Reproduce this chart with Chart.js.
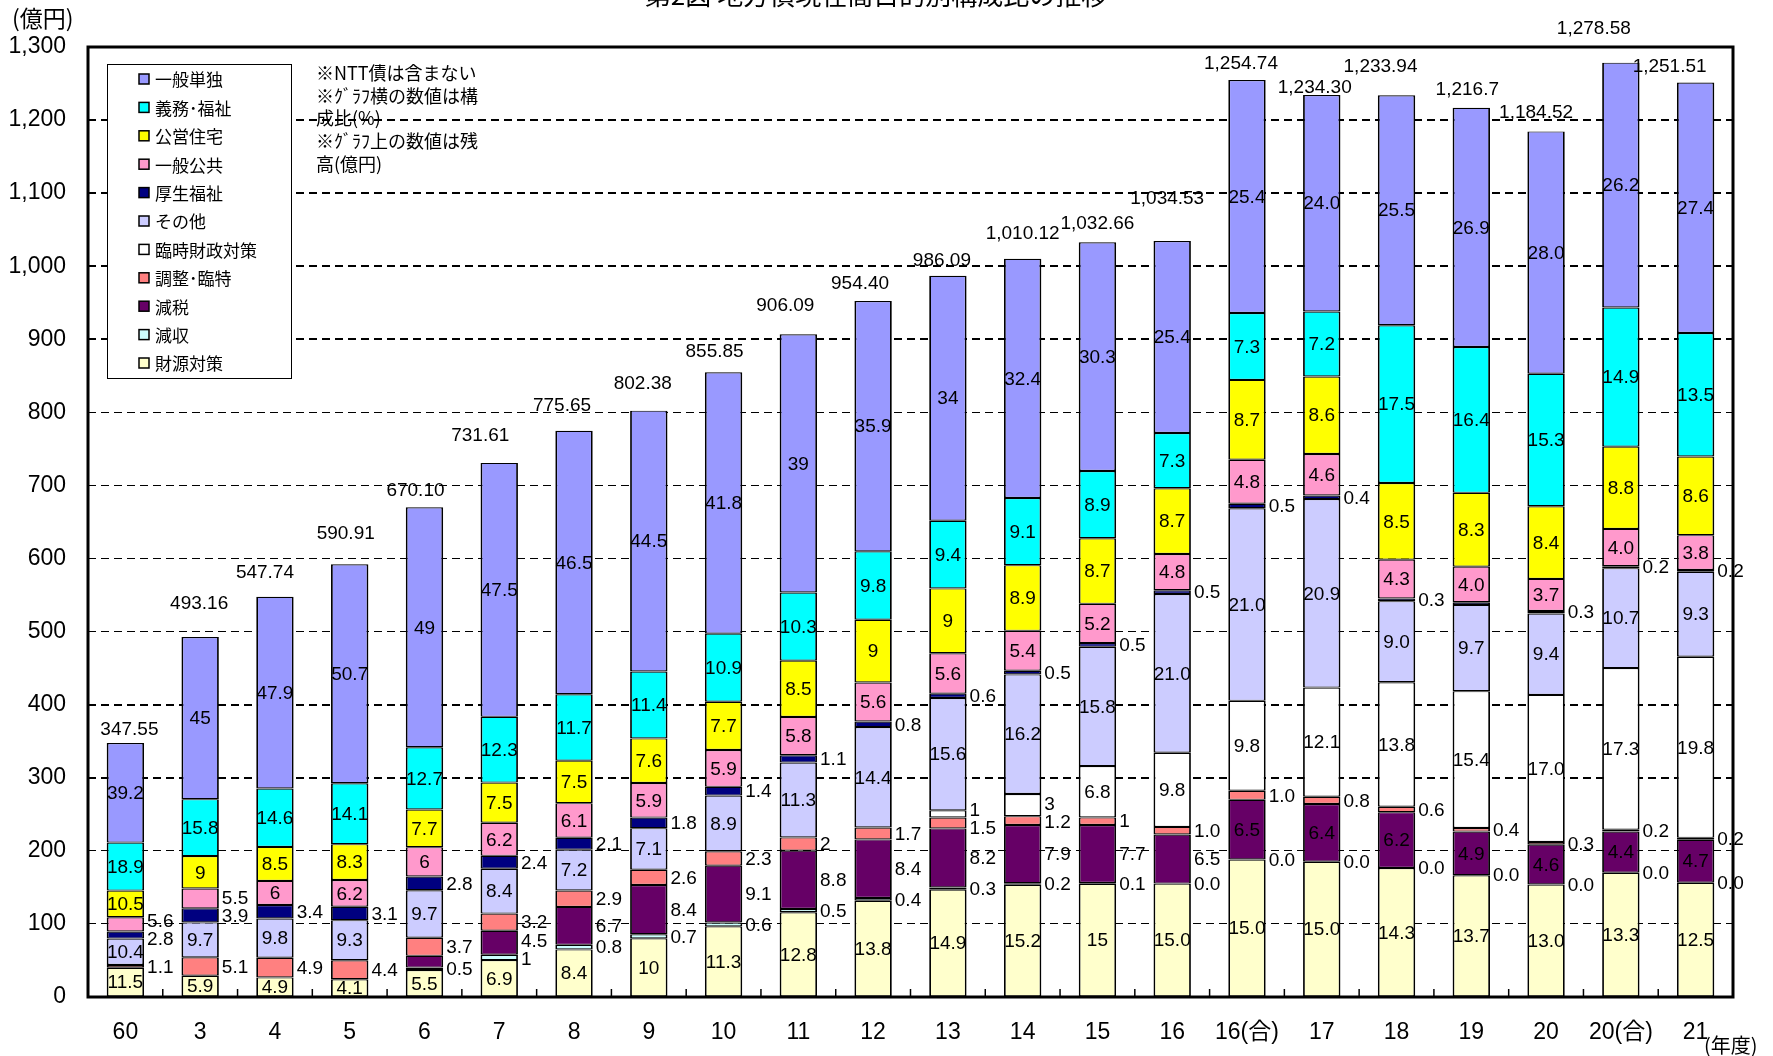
<!DOCTYPE html>
<html lang="ja">
<head>
<meta charset="utf-8">
<script src="https://cdn.jsdelivr.net/npm/chart.js@4.4.1/dist/chart.umd.min.js"></script>
<style>
html,body{margin:0;padding:0;background:#fff;}
canvas{display:block;}
</style>
</head>
<body>
<canvas id="c" width="1773" height="1056" style="width:1773px;height:1056px"></canvas>
<script>
// ---------- DATA ----------
const categories = ['60','3','4','5','6','7','8','9','10','11','12','13','14','15','16','16(合)','17','18','19','20','20(合)','21'];
const totals = [347.55, 493.16, 547.74, 590.91, 670.10, 731.61, 775.65, 802.38, 855.85, 906.09, 954.40, 986.09, 1010.12, 1032.66, 1034.53, 1254.74, 1234.30, 1233.94, 1216.7, 1184.52, 1278.58, 1251.51];
const totalLabels = ['347.55','493.16','547.74','590.91','670.10','731.61','775.65','802.38','855.85','906.09','954.40','986.09','1,010.12','1,032.66','1,034.53','1,254.74','1,234.30','1,233.94','1,216.7','1,184.52','1,278.58','1,251.51'];

// composition ratios (%) per purpose, bottom of stack first
const zaigen   = [11.5, 5.9, 4.9, 4.1, 5.5, 6.9, 8.4, 10, 11.3, 12.8, 13.8, 14.9, 15.2, 15, 15.0, 15.0, 15.0, 14.3, 13.7, 13.0, 13.3, 12.5]; // 財源対策
const genshu   = [null, null, null, null, 0.5, 1, 0.8, 0.7, 0.6, 0.5, 0.4, 0.3, 0.2, 0.1, 0.0, 0.0, 0.0, 0.0, 0.0, 0.0, 0.0, 0.0]; // 減収
const genzei   = [null, null, null, null, 2.4, 4.5, 6.7, 8.4, 9.1, 8.8, 8.4, 8.2, 7.9, 7.7, 6.5, 6.5, 6.4, 6.2, 4.9, 4.6, 4.4, 4.7]; // 減税
const chosei   = [1.1, 5.1, 4.9, 4.4, 3.7, 3.2, 2.9, 2.6, 2.3, 2, 1.7, 1.5, 1.2, 1, 1.0, 1.0, 0.8, 0.6, 0.4, 0.3, 0.2, 0.2]; // 調整・臨特
const rinji    = [null, null, null, null, null, null, null, null, null, null, null, 1, 3, 6.8, 9.8, 9.8, 12.1, 13.8, 15.4, 17.0, 17.3, 19.8]; // 臨時財政対策
const sonota   = [10.4, 9.7, 9.8, 9.3, 9.7, 8.4, 7.2, 7.1, 8.9, 11.3, 14.4, 15.6, 16.2, 15.8, 21.0, 21.0, 20.9, 9.0, 9.7, 9.4, 10.7, 9.3]; // その他
const kosei    = [2.8, 3.9, 3.4, 3.1, 2.8, 2.4, 2.1, 1.8, 1.4, 1.1, 0.8, 0.6, 0.5, 0.5, 0.5, 0.5, 0.4, 0.3, 0.3, 0.3, 0.2, 0.2]; // 厚生福祉
const kokyo    = [5.6, 5.5, 6, 6.2, 6, 6.2, 6.1, 5.9, 5.9, 5.8, 5.6, 5.6, 5.4, 5.2, 4.8, 4.8, 4.6, 4.3, 4.0, 3.7, 4.0, 3.8]; // 一般公共
const koei     = [10.5, 9, 8.5, 8.3, 7.7, 7.5, 7.5, 7.6, 7.7, 8.5, 9, 9, 8.9, 8.7, 8.7, 8.7, 8.6, 8.5, 8.3, 8.4, 8.8, 8.6]; // 公営住宅
const gimu     = [18.9, 15.8, 14.6, 14.1, 12.7, 12.3, 11.7, 11.4, 10.9, 10.3, 9.8, 9.4, 9.1, 8.9, 7.3, 7.3, 7.2, 17.5, 16.4, 15.3, 14.9, 13.5]; // 義務・福祉
const tandoku  = [39.2, 45, 47.9, 50.7, 49, 47.5, 46.5, 44.5, 41.8, 39, 35.9, 34, 32.4, 30.3, 25.4, 25.4, 24.0, 25.5, 26.9, 28.0, 26.2, 27.4]; // 一般単独

const yTicks = [0,100,200,300,400,500,600,700,800,900,1000,1100,1200,1300];
const noteLines = ['※NTT債は含まない','※ｸﾞﾗﾌ横の数値は構','成比(%)','※ｸﾞﾗﾌ上の数値は残','高(億円)'];
// ---------- END DATA ----------

const NUM_FONT = "'Liberation Sans', 'Noto Sans CJK JP', sans-serif";
const JP_FONT = "'Noto Sans CJK JP', sans-serif";

const seriesDefs = [
  {key:'zaigen',  label:'財源対策',     pct:zaigen,  color:'#FFFFCC'},
  {key:'genshu',  label:'減収',         pct:genshu,  color:'#CCFFFF'},
  {key:'genzei',  label:'減税',         pct:genzei,  color:'#660066'},
  {key:'chosei',  label:'調整･臨特',    pct:chosei,  color:'#FF8080'},
  {key:'rinji',   label:'臨時財政対策', pct:rinji,   color:'#FFFFFF'},
  {key:'sonota',  label:'その他',       pct:sonota,  color:'#CCCCFF'},
  {key:'kosei',   label:'厚生福祉',     pct:kosei,   color:'#000080'},
  {key:'kokyo',   label:'一般公共',     pct:kokyo,   color:'#FF99CC'},
  {key:'koei',    label:'公営住宅',     pct:koei,    color:'#FFFF00'},
  {key:'gimu',    label:'義務･福祉',    pct:gimu,    color:'#00FFFF'},
  {key:'tandoku', label:'一般単独',     pct:tandoku, color:'#9999FF'}
];

// points whose ratio label is not printed in the original
const unlabeled = [['genzei',4],['kosei',18]];
// nudges of the total labels (placement only)
const totalNudge = {
  dx:   [4,-1,-10,-4,-9,-19,-12,-6,-9,-13,-13,-6,0,0,-5,-6,-7,-16,-4,-10,-27,-26],
  lift: [14,34,25,32,18,28,25,28,21,30,17,17,26,20,43,17,8,30,19,20,35,17]
};

const datasets = seriesDefs.map(s => ({
  key: s.key,
  label: s.label,
  pct: s.pct,
  data: s.pct.map((p,i) => p == null ? null : totals[i] * p / 100),
  backgroundColor: s.color,
  borderColor: '#000',
  borderWidth: {top:1.2, bottom:1.2, left:1.8, right:1.8},
  borderSkipped: false,
  inflateAmount: 0,
  barPercentage: 0.5,
  categoryPercentage: 1.0
}));

const overlay = {
  id: 'overlay',
  afterDatasetsDraw(chart) {
    const {ctx, chartArea: ca} = chart;
    const xs = chart.scales.x, ys = chart.scales.y;
    ctx.save();
    // ratio labels
    ctx.font = `19px ${NUM_FONT}`;
    ctx.fillStyle = '#000';
    ctx.textBaseline = 'middle';
    const outside = categories.map(() => []);
    chart.data.datasets.forEach((ds, di) => {
      const meta = chart.getDatasetMeta(di);
      ds.pct.forEach((p, i) => {
        if (p == null) return;
        if (unlabeled.some(u => u[0] === ds.key && u[1] === i)) return;
        const el = meta.data[i];
        const h = Math.abs(el.base - el.y);
        const cy = (el.base + el.y) / 2;
        const txt = i >= 14 ? p.toFixed(1) : String(p);
        let inside;
        if (ds.key === 'zaigen') inside = true;
        else if (ds.key === 'genshu') inside = false;
        else if (ds.key === 'genzei') inside = i >= 15;
        else inside = h >= 23;
        if (inside) {
          ctx.textAlign = 'center';
          ctx.fillText(txt, el.x, cy + 1);
        } else {
          outside[i].push({txt, y: cy, x: el.x + el.width / 2 + 3});
        }
      });
    });
    outside.forEach(list => {
      list.sort((a, b) => b.y - a.y);
      for (let it = 0; it < 30; it++) {
        for (let k = 0; k < list.length - 1; k++) {
          const a = list[k], b = list[k + 1];
          const d = a.y - b.y;
          if (d < 18) { const s = (18 - d) / 2; a.y += s; b.y -= s; }
        }
      }
      ctx.textAlign = 'left';
      list.forEach(o => ctx.fillText(o.txt, o.x, o.y + 1));
    });
    // totals
    ctx.textAlign = 'center';
    totals.forEach((t, i) => {
      const x = xs.getPixelForValue(i) + totalNudge.dx[i];
      const y = ys.getPixelForValue(t) - totalNudge.lift[i];
      ctx.fillText(totalLabels[i], x, y + 1);
    });
    // inward ticks on category axis
    ctx.strokeStyle = '#000';
    ctx.lineWidth = 1.5;
    for (let i = 1; i < categories.length; i++) {
      const x = (xs.getPixelForValue(i - 1) + xs.getPixelForValue(i)) / 2;
      ctx.beginPath(); ctx.moveTo(x, ca.bottom); ctx.lineTo(x, ca.bottom - 8); ctx.stroke();
    }
    // frame
    ctx.lineWidth = 3;
    ctx.strokeRect(ca.left, ca.top, ca.right - ca.left, ca.bottom - ca.top);
    ctx.restore();
  },
  afterDraw(chart) {
    const {ctx, chartArea: ca} = chart;
    ctx.save();
    // legend box
    const bx = ca.left + 19, by = ca.top + 17, bw = 184, bh = 314;
    ctx.fillStyle = '#fff';
    ctx.fillRect(bx, by, bw, bh);
    ctx.strokeStyle = '#000';
    ctx.lineWidth = 1;
    ctx.strokeRect(bx + 0.5, by + 0.5, bw, bh);
    const items = chart.data.datasets.slice().reverse();
    ctx.font = `17px ${JP_FONT}`;
    ctx.textAlign = 'left';
    ctx.textBaseline = 'middle';
    items.forEach((ds, k) => {
      const cy = by + 15 + k * 28.4;
      ctx.fillStyle = ds.backgroundColor;
      ctx.fillRect(bx + 32, cy - 5, 10, 10);
      ctx.lineWidth = 1.5;
      ctx.strokeRect(bx + 32, cy - 5, 10, 10);
      ctx.fillStyle = '#000';
      ctx.fillText(ds.label, bx + 48, cy + 1);
    });
    // notes
    ctx.font = `18px ${JP_FONT}`;
    noteLines.forEach((t, k) => ctx.fillText(t, 316, 73 + k * 22.7));
    // unit label
    ctx.font = `23px ${JP_FONT}`;
    ctx.fillText('(億円)', 12, 18);
    // year label
    ctx.font = `20px ${JP_FONT}`;
    ctx.fillText('(年度)', 1704, 1045);
    // title (mostly cut at the top edge)
    ctx.font = `26px ${JP_FONT}`;
    ctx.textAlign = 'center';
    ctx.textBaseline = 'alphabetic';
    ctx.fillText('第2図 地方債現在高目的別構成比の推移', 876, 5);
    ctx.restore();
  }
};

const thick = [300, 400, 900, 1000, 1100, 1200];

new Chart(document.getElementById('c'), {
  type: 'bar',
  data: {labels: categories, datasets},
  plugins: [overlay],
  options: {
    responsive: false,
    animation: false,
    events: [],
    layout: {padding: {top: 47, right: 40, left: 0, bottom: 0}},
    plugins: {legend: {display: false}, tooltip: {enabled: false}},
    scales: {
      x: {
        stacked: true,
        grid: {display: false, drawTicks: false},
        border: {display: false},
        ticks: {font: {size: 23, family: NUM_FONT}, color: '#000', padding: 22, maxRotation: 0, autoSkip: false},
        afterFit: s => { s.height = 59; }
      },
      y: {
        stacked: true,
        min: 0, max: 1300,
        afterBuildTicks: s => { s.ticks = yTicks.map(v => ({value: v})); },
        ticks: {
          font: {size: 23, family: NUM_FONT}, color: '#000', padding: 22,
          callback: v => v.toLocaleString('en-US')
        },
        grid: {
          color: '#000',
          drawTicks: false,
          lineWidth: c => (c.tick && thick.includes(c.tick.value)) ? 2 : 1
        },
        border: {display: false, dash: [8, 5]},
        afterFit: s => { s.width = 88; }
      }
    }
  }
});
</script>
</body>
</html>
